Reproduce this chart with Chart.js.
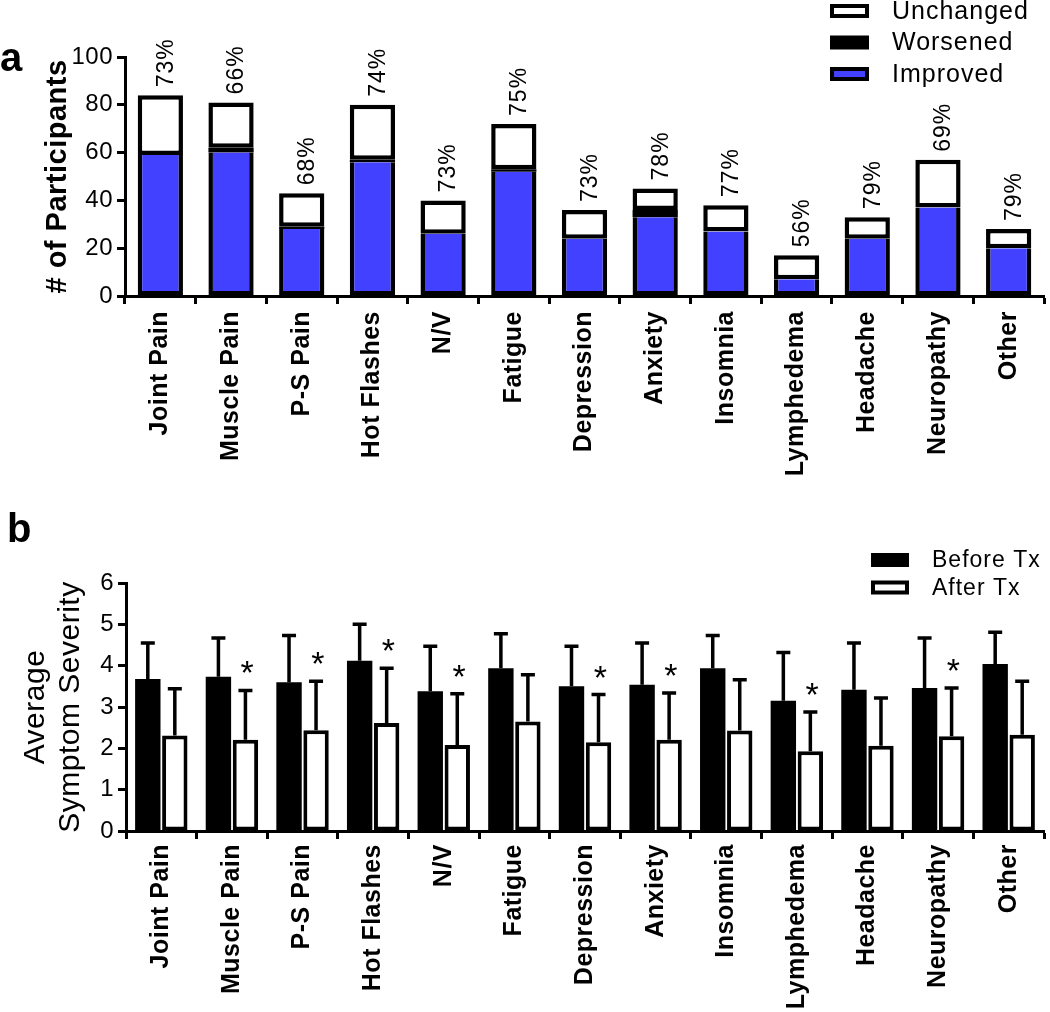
<!DOCTYPE html>
<html>
<head>
<meta charset="utf-8">
<script src="https://cdn.jsdelivr.net/npm/chart.js@4.4.0/dist/chart.umd.min.js"></script>
<style>
  html, body { margin: 0; padding: 0; background: #fff; }
  #wrap { position: relative; width: 1050px; height: 1012px; }
  .panel { position: absolute; left: 0; width: 1050px; }
  #boxA { top: 0; height: 490px; }
  #boxB { top: 470px; height: 542px; }
</style>
</head>
<body>
<div id="wrap">
  <div class="panel" id="boxA"><canvas id="chartA" width="1050" height="490"></canvas></div>
  <div class="panel" id="boxB"><canvas id="chartB" width="1050" height="542"></canvas></div>
</div>
<script>
// symptom categories (both panels)
const symptoms = ['Joint Pain', 'Muscle Pain', 'P-S Pain', 'Hot Flashes', 'N/V', 'Fatigue',
  'Depression', 'Anxiety', 'Insomnia', 'Lymphedema', 'Headache', 'Neuropathy', 'Other'];

// panel a - number of participants
const improved  = [59, 60, 28, 56, 26, 52, 24, 33, 27, 7, 24, 37, 20];
const worsened  = [0, 2, 1, 1, 0, 1, 0, 3, 0, 0, 0, 0, 0];
const unchanged = [25, 19, 14, 23, 14, 19, 12, 9, 11, 10, 9, 20, 8];
const pctLabels = ['73%', '66%', '68%', '74%', '73%', '75%', '73%', '78%', '77%', '56%', '79%', '69%', '79%'];

// panel b - average severity (mean, upper SD)
const beforeTx = [3.68, 3.73, 3.60, 4.12, 3.38, 3.94, 3.50, 3.54, 3.94, 3.15, 3.42, 3.46, 4.04];
const beforeSD = [0.87, 0.94, 1.13, 0.88, 1.09, 0.83, 0.97, 1.01, 0.79, 1.17, 1.13, 1.21, 0.77];
const afterTx  = [2.31, 2.21, 2.44, 2.61, 2.08, 2.65, 2.15, 2.21, 2.43, 1.93, 2.06, 2.29, 2.33];
const afterSD  = [1.13, 1.19, 1.18, 1.33, 1.24, 1.13, 1.15, 1.13, 1.23, 0.95, 1.16, 1.17, 1.29];
const significant = [false, true, true, true, true, false, true, true, false, true, false, true, false];

const FONT = '"Liberation Sans", Arial, Helvetica, sans-serif';
const BLUE = '#4141ff';
Chart.defaults.font.family = FONT;
Chart.defaults.color = '#000';

// the original lettering is a bit wider than Arial
const spacing = {
    id: 'spacing',
    beforeDraw(chart) { chart.ctx.letterSpacing = '0.5px'; }
};

function axisX(height, pad) {
    return {
        grid: { display: true, drawOnChartArea: false, drawTicks: true, tickLength: 8, tickWidth: 3, tickColor: '#000' },
        border: { display: true, width: 3, color: '#000' },
        ticks: { color: '#000', font: { size: 25, weight: 'bold' }, minRotation: 90, maxRotation: 90, padding: pad, autoSkip: false },
        afterFit: s => { s.height = height; }
    };
}

function axisY(max, step, title, titleFont, titlePad, width) {
    return {
        min: 0, max: max,
        grid: { display: true, drawOnChartArea: false, drawTicks: true, tickLength: 8, tickWidth: 3, tickColor: '#000' },
        border: { display: true, width: 3, color: '#000' },
        ticks: { stepSize: step, color: '#000', font: { size: 24 }, padding: 4 },
        title: { display: true, text: title, color: '#000', font: titleFont, padding: { top: titlePad, bottom: 0 } },
        afterFit: s => { s.width = width; }
    };
}

// draws a legend box + label, border inside the box like the bars
function legendItem(ctx, x, y, w, h, fill, label, size) {
    ctx.fillStyle = '#000';
    ctx.fillRect(x, y - h / 2, w, h);
    if (fill !== '#000') {
        ctx.fillStyle = fill;
        ctx.fillRect(x + 4, y - h / 2 + 4, w - 8, h - 8);
    }
    ctx.fillStyle = '#000';
    ctx.letterSpacing = '1px';
    ctx.font = size + 'px ' + FONT;
    ctx.textAlign = 'left';
    ctx.textBaseline = 'middle';
    ctx.fillText(label, x + w + 23, y + 1);
}

const decorA = {
    id: 'decorA',
    afterDatasetsDraw(chart) {
        const { ctx, scales: { x, y } } = chart;
        ctx.save();
        ctx.fillStyle = '#000';
        ctx.letterSpacing = '1px';
        ctx.font = '23px ' + FONT;
        ctx.textAlign = 'left';
        ctx.textBaseline = 'middle';
        symptoms.forEach((s, i) => {
            const total = improved[i] + worsened[i] + unchanged[i];
            ctx.save();
            ctx.translate(x.getPixelForValue(i) + 6, y.getPixelForValue(total) - 8);
            ctx.rotate(-Math.PI / 2);
            ctx.fillText(pctLabels[i], 0, 0);
            ctx.restore();
        });
        // legend: reversed stack order
        const ds = chart.data.datasets;
        [2, 1, 0].forEach((d, k) => {
            legendItem(ctx, 830, 11 + k * 31.5, 39, 14, ds[d].backgroundColor, ds[d].label, 25);
        });
        ctx.letterSpacing = '0px';
        ctx.font = 'bold 40px ' + FONT;
        ctx.textBaseline = 'alphabetic';
        ctx.fillText('a', 0, 71);
        ctx.restore();
    }
};

const decorB = {
    id: 'decorB',
    afterDatasetsDraw(chart) {
        const { ctx, scales: { y } } = chart;
        const sds = [beforeSD, afterSD];
        ctx.save();
        ctx.strokeStyle = '#000';
        ctx.lineWidth = 3.5;
        chart.data.datasets.forEach((ds, d) => {
            chart.getDatasetMeta(d).data.forEach((bar, i) => {
                const top = y.getPixelForValue(ds.data[i] + sds[d][i]);
                ctx.beginPath();
                ctx.moveTo(bar.x, bar.y);
                ctx.lineTo(bar.x, top);
                ctx.moveTo(bar.x - 7, top);
                ctx.lineTo(bar.x + 7, top);
                ctx.stroke();
                if (d === 1 && significant[i]) {
                    ctx.fillStyle = '#000';
                    ctx.font = '34px ' + FONT;
                    ctx.textAlign = 'center';
                    ctx.textBaseline = 'alphabetic';
                    ctx.fillText('*', bar.x + 2, top - 6);
                }
            });
        });
        const dsets = chart.data.datasets;
        [0, 1].forEach(k => {
            legendItem(ctx, 871, 90 + k * 27.5, 38, 14, dsets[k].backgroundColor, dsets[k].label, 23);
        });
        ctx.letterSpacing = '0px';
        ctx.fillStyle = '#000';
        ctx.font = 'bold 40px ' + FONT;
        ctx.textAlign = 'left';
        ctx.textBaseline = 'alphabetic';
        ctx.fillText('b', 7, 72);
        ctx.restore();
    }
};

new Chart(document.getElementById('chartA'), {
    type: 'bar',
    data: {
        labels: symptoms,
        datasets: [
            { label: 'Improved', data: improved, backgroundColor: BLUE, borderColor: '#000',
              borderWidth: { top: 0, left: 4.5, right: 4.5, bottom: 4.5 }, borderSkipped: false },
            { label: 'Worsened', data: worsened, backgroundColor: '#000', borderWidth: 0 },
            { label: 'Unchanged', data: unchanged, backgroundColor: '#fff', borderColor: '#000',
              borderWidth: 4.5, borderSkipped: false }
        ]
    },
    options: {
        responsive: false, animation: false,
        layout: { padding: { top: 57, right: 6, left: 0, bottom: 0 } },
        datasets: { bar: { categoryPercentage: 1, barPercentage: 0.64 } },
        plugins: { legend: { display: false }, tooltip: { enabled: false } },
        scales: {
            x: Object.assign(axisX(194, 7), { stacked: true }),
            y: Object.assign(axisY(100, 20, '# of Participants', { size: 29, weight: 'bold' }, 41, 125), { stacked: true })
        }
    },
    plugins: [spacing, decorA]
});

new Chart(document.getElementById('chartB'), {
    type: 'bar',
    data: {
        labels: symptoms,
        datasets: [
            { label: 'Before Tx', data: beforeTx, backgroundColor: '#000', borderWidth: 0 },
            { label: 'After Tx', data: afterTx, backgroundColor: '#fff', borderColor: '#000',
              borderWidth: 4, borderSkipped: false }
        ]
    },
    options: {
        responsive: false, animation: false,
        layout: { padding: { top: 113, right: 6, left: 0, bottom: 0 } },
        datasets: { bar: { categoryPercentage: 0.765, barPercentage: 0.94 } },
        plugins: { legend: { display: false }, tooltip: { enabled: false } },
        scales: {
            x: axisX(181, 5),
            y: axisY(6, 1, ['Average', 'Symptom Severity'], { size: 30, lineHeight: 1.17 }, 18, 126)
        }
    },
    plugins: [spacing, decorB]
});
</script>
</body>
</html>
